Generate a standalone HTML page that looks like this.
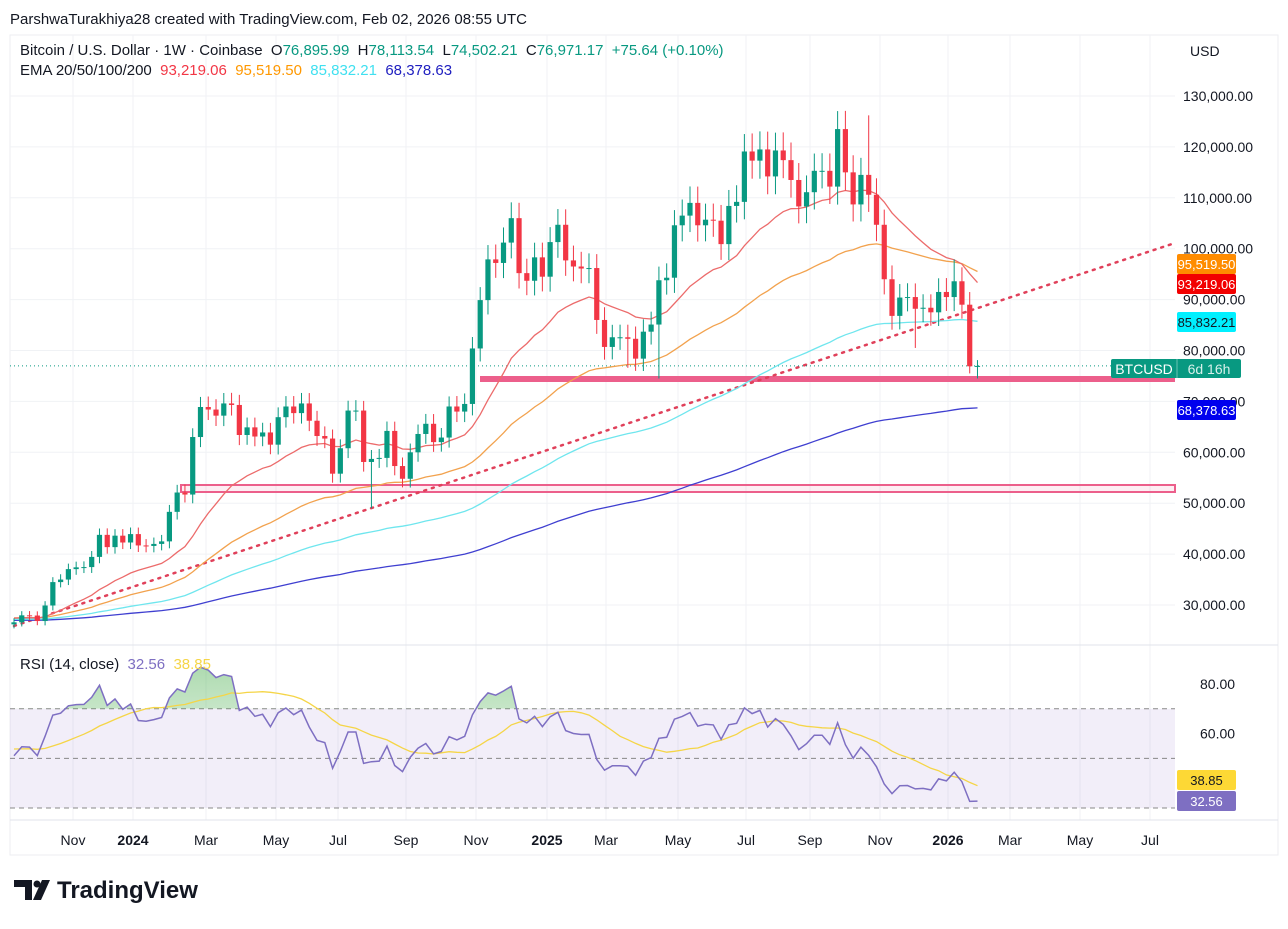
<!DOCTYPE html>
<html><head><meta charset="utf-8"><style>
body{margin:0;background:#fff;width:1288px;height:924px;overflow:hidden;font-family:"Liberation Sans",sans-serif}
svg text{font-family:"Liberation Sans",sans-serif}
</style></head><body>
<svg id="s" width="1288" height="924" xmlns="http://www.w3.org/2000/svg"></svg>
<script>
const S=document.getElementById('s');let h='';
const X0=14,DX=7.77;
const py=p=>96+(130000-p)/1000*5.09;
const ry=v=>684+(80-v)*2.48;
const months=[[73,'Nov'],[133,'2024',1],[206,'Mar'],[276,'May'],[338,'Jul'],[406,'Sep'],[476,'Nov'],[547,'2025',1],[606,'Mar'],[678,'May'],[746,'Jul'],[810,'Sep'],[880,'Nov'],[948,'2026',1],[1010,'Mar'],[1080,'May'],[1150,'Jul']];
h+='<rect x="10" y="35" width="1268" height="820" fill="none" stroke="#eceef2"/>';
months.forEach(m=>{h+=`<line x1="${m[0]}" y1="35" x2="${m[0]}" y2="820" stroke="#f0f2f5"/>`;h+=`<text x="${m[0]}" y="845" font-size="14" text-anchor="middle" fill="#131722" ${m[2]?'font-weight="bold"':''}>${m[1]}</text>`});
for(let p=30000;p<=130000;p+=10000){const y=py(p);h+=`<line x1="10" y1="${y}" x2="1175" y2="${y}" stroke="#f0f2f5"/><text x="1183" y="${y+5}" font-size="14" fill="#131722">${p.toLocaleString('en-US')}.00</text>`}
h+='<line x1="10" y1="645" x2="1278" y2="645" stroke="#e0e3eb"/><line x1="10" y1="820" x2="1278" y2="820" stroke="#e0e3eb"/>';
h+='<text x="1190" y="56" font-size="14" fill="#131722">USD</text>';
h+=`<rect x="10" y="${ry(70)}" width="1165" height="${ry(30)-ry(70)}" fill="#7e57c2" fill-opacity="0.1"/>`;
[70,50,30].forEach(v=>h+=`<line x1="10" y1="${ry(v)}" x2="1175" y2="${ry(v)}" stroke="#888" stroke-dasharray="5,4"/>`);
[80,60].forEach(v=>h+=`<text x="1200" y="${ry(v)+5}" font-size="14" fill="#131722">${v}.00</text>`);
const C=[26600,27970,27930,26850,29900,34500,35000,37050,37400,37450,39450,43780,41370,43620,42280,
43930,41700,41600,42000,42500,48300,52100,51700,63000,68900,68400,67200,69600,69300,63400,64900,63100,63900,61500,66900,69000,67700,69600,66200,63200,62700,55800,60800,68200,68200,58100,58700,58900,64200,57300,54800,60000,63600,65600,62000,62900,69000,68000,69500,80400,89900,97900,97200,101200,106000,95200,93700,98300,
94500,101300,104700,97700,96500,96100,96200,86000,80700,82600,82600,82300,78400,83700,85100,93800,94300,104600,106500,109000,104600,105700,105500,100900,108400,109200,119100,117300,119500,114200,119300,117400,113500,108300,111100,115300,115300,112200,123500,115000,108700,114500,110600,104700,94000,86800,90400,90500,88200,88400,87500,91500,90500,93600,89000,76896,76971];
const n=C.length;const O=[],H=[],L=[];
for(let i=0;i<n;i++){O[i]=i?C[i-1]:26200;const a=(O[i]+C[i])/2*0.03;H[i]=Math.max(O[i],C[i])+a;L[i]=Math.min(O[i],C[i])-a;}
const ov={46:[null,49000],110:[126200,null],83:[null,74500],79:[null,76600],116:[null,80500],121:[97900,null],123:[null,75500],124:[78113,74502]};
for(const k in ov){if(ov[k][0])H[k]=ov[k][0];if(ov[k][1])L[k]=ov[k][1];}
const xs=i=>X0+i*DX;
function ema(N,seed){let e=seed,r=[];const a=2/(N+1);C.forEach(c=>{e=c*a+e*(1-a);r.push(e)});return r}
const em=[[ema(200,27000),'#3f3fd0'],[ema(100,27200),'#6fe6ee'],[ema(50,27500),'#f2a24e'],[ema(20,27500),'#ec6b6b']];
function line(arr,f,col,w){return `<polyline fill="none" stroke="${col}" stroke-width="${w}" points="${arr.map((v,i)=>xs(i).toFixed(1)+','+f(v).toFixed(1)).join(' ')}"/>`}
h+=`<rect x="181" y="485" width="994" height="7" fill="#f48fb1" fill-opacity="0.15" stroke="#ec5f8b" stroke-width="2"/>`;
h+=`<rect x="480" y="376" width="695" height="6" fill="#ec5f8b"/>`;
h+=`<line x1="14" y1="626" x2="1175" y2="243" stroke="#e0405a" stroke-width="2.5" stroke-dasharray="2,6" stroke-linecap="round"/>`;
h+=`<line x1="10" y1="${py(76971)}" x2="1112" y2="${py(76971)}" stroke="#089981" stroke-dasharray="1,3"/>`;
em.forEach(e=>h+=line(e[0],py,e[1],1.3));
for(let i=0;i<n;i++){const x=xs(i),up=C[i]>=O[i],col=up?'#089981':'#f23645';const t=py(Math.max(O[i],C[i])),b=py(Math.min(O[i],C[i]));
h+=`<line x1="${x}" y1="${py(H[i])}" x2="${x}" y2="${py(L[i])}" stroke="${col}"/><rect x="${x-2.6}" y="${t}" width="5.2" height="${Math.max(1,b-t)}" fill="${col}"/>`}
let ag=700,al=700,R=[];for(let i=0;i<n;i++){const d=C[i]-O[i];ag=(ag*13+Math.max(d,0))/14;al=(al*13+Math.max(-d,0))/14;R.push(100-100/(1+ag/al))}
const M=[];for(let i=0;i<n;i++){let s=0,c=0;for(let j=i-13;j<=i;j++){s+=j>=0?R[j]:54;c++}M.push(s/c)}
h+=`<defs><clipPath id="ob"><rect x="0" y="0" width="1288" height="${ry(70)}"/></clipPath><linearGradient id="g" x1="0" y1="0" x2="0" y2="1"><stop offset="0" stop-color="#4caf50" stop-opacity="0.45"/><stop offset="1" stop-color="#4caf50" stop-opacity="0.03"/></linearGradient></defs>`;
h+=`<polygon clip-path="url(#ob)" fill="url(#g)" points="${xs(0)},${ry(70)} ${R.map((v,i)=>xs(i).toFixed(1)+','+ry(v).toFixed(1)).join(' ')} ${xs(n-1)},${ry(70)}"/>`;
h+=line(M,ry,'#f5d547',1.3);h+=line(R,ry,'#7e6fc2',1.5);
function lab(y,txt,bg,fg){h+=`<rect x="1177" y="${y-10}" width="59" height="20" rx="2" fill="${bg}"/><text x="1206.5" y="${y+5}" font-size="13" text-anchor="middle" fill="${fg}">${txt}</text>`}
lab(264,'95,519.50','#ff8c00','#fff');lab(284,'93,219.06','#f20000','#fff');lab(322,'85,832.21','#00f0ff','#131722');lab(410,'68,378.63','#0000ee','#fff');
lab(780,'38.85','#fdd835','#131722');lab(801,'32.56','#7e6fc2','#fff');
h+=`<rect x="1111" y="359" width="130" height="19" rx="2" fill="#089981"/><line x1="1177" y1="359" x2="1177" y2="378" stroke="#fff" stroke-opacity="0.4"/><text x="1144" y="374" font-size="14" text-anchor="middle" fill="#fff">BTCUSD</text><text x="1209" y="374" font-size="14" text-anchor="middle" fill="#d6f0ea">6d 16h</text>`;
h+=`<text x="10" y="24" font-size="15" fill="#131722">ParshwaTurakhiya28 created with TradingView.com, Feb 02, 2026 08:55 UTC</text>`;
h+=`<text x="20" y="55" font-size="15" fill="#131722" xml:space="preserve">Bitcoin / U.S. Dollar · 1W · Coinbase  O<tspan fill="#089981">76,895.99</tspan>  H<tspan fill="#089981">78,113.54</tspan>  L<tspan fill="#089981">74,502.21</tspan>  C<tspan fill="#089981">76,971.17</tspan>  <tspan fill="#089981">+75.64 (+0.10%)</tspan></text>`;
h+=`<text x="20" y="75" font-size="15" fill="#131722" xml:space="preserve">EMA 20/50/100/200  <tspan fill="#f23645">93,219.06</tspan>  <tspan fill="#ff9800">95,519.50</tspan>  <tspan fill="#40e0f0">85,832.21</tspan>  <tspan fill="#2020c0">68,378.63</tspan></text>`;
h+=`<text x="20" y="669" font-size="15" fill="#131722" xml:space="preserve">RSI (14, close)  <tspan fill="#7e6fc2">32.56</tspan>  <tspan fill="#f5d547">38.85</tspan></text>`;
h+=`<path d="M14 880h18v20h-7v-13h-11z" fill="#131722"/><circle cx="37" cy="884" r="3.5" fill="#131722"/><path d="M42 880h8l-9 20h-8z" fill="#131722"/>`;
h+=`<text x="57" y="898" font-size="24" font-weight="bold" fill="#131722">TradingView</text>`;
S.innerHTML=h;
</script>
</body></html>
